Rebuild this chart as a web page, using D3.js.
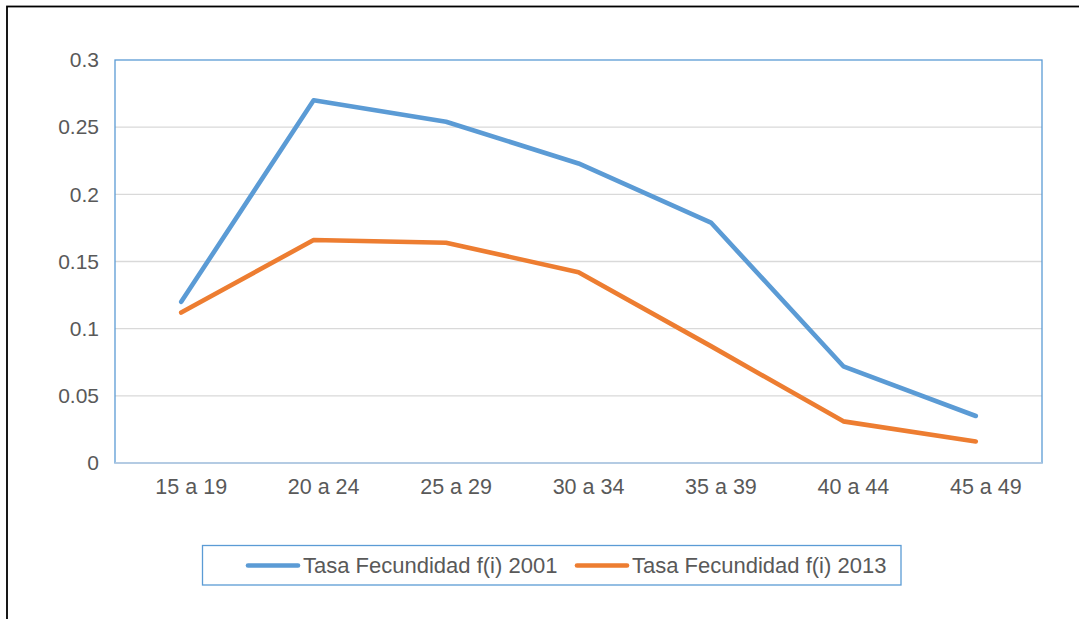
<!DOCTYPE html>
<html>
<head>
<meta charset="utf-8">
<script src="https://cdn.jsdelivr.net/npm/d3@7.9.0/dist/d3.min.js"></script>
<style>
  html, body { margin: 0; padding: 0; background: #fff; overflow: hidden; }
  svg { display: block; font-family: "Liberation Sans", Arial, sans-serif; }
</style>
</head>
<body>
<svg id="chart" width="1079" height="619"></svg>
<script>
// categories and series
const categories = ['15 a 19', '20 a 24', '25 a 29', '30 a 34', '35 a 39', '40 a 44', '45 a 49'];
const tasa2001 = [0.120, 0.270, 0.254, 0.223, 0.179, 0.072, 0.035];
const tasa2013 = [0.112, 0.166, 0.164, 0.142, 0.087, 0.031, 0.016];
const yTicks = [0, 0.05, 0.1, 0.15, 0.2, 0.25, 0.3];
const seriesNames = ['Tasa Fecundidad f(i) 2001', 'Tasa Fecundidad f(i) 2013'];
const seriesColors = ['#5B9BD5', '#ED7D31'];

const svg = d3.select('#chart');
const plot = { left: 115, top: 60, right: 1042, bottom: 463 };
const textColor = '#595959';

// outer frame (runs off the right and bottom edge, like the reference)
svg.append('rect')
    .attr('x', 7).attr('y', 6.5)
    .attr('width', 1100).attr('height', 650)
    .attr('fill', 'none')
    .attr('stroke', '#000')
    .attr('stroke-width', 1.8);

const x = d3.scaleBand()
    .domain(categories)
    .range([plot.left, plot.right]);

const y = d3.scaleLinear()
    .domain([0, 0.3])
    .range([plot.bottom, plot.top]);

// gridlines
svg.append('g')
    .selectAll('line')
    .data(yTicks.filter(d => d > 0 && d < 0.3))
    .join('line')
    .attr('x1', plot.left).attr('x2', plot.right)
    .attr('y1', d => y(d)).attr('y2', d => y(d))
    .attr('stroke', '#d9d9d9')
    .attr('stroke-width', 1.3);

// plot area border
svg.append('rect')
    .attr('x', plot.left).attr('y', plot.top)
    .attr('width', plot.right - plot.left)
    .attr('height', plot.bottom - plot.top)
    .attr('fill', 'none')
    .attr('stroke', '#5B9BD5')
    .attr('stroke-width', 1.3);

// bottom axis line is lighter
svg.append('line')
    .attr('x1', plot.left).attr('x2', plot.right)
    .attr('y1', plot.bottom).attr('y2', plot.bottom)
    .attr('stroke', '#bfcfe3')
    .attr('stroke-width', 1.3);

// y axis labels
const yAxis = svg.append('g')
    .attr('transform', `translate(${plot.left},0)`)
    .call(d3.axisLeft(y).tickValues(yTicks).tickFormat(d => String(+d.toFixed(2))).tickSize(0).tickPadding(16));
yAxis.select('.domain').remove();
yAxis.selectAll('text')
    .attr('fill', textColor)
    .style('font-size', '21px')
    .style('font-family', '"Liberation Sans", Arial, sans-serif');

// x axis labels (sit a bit right of the category centre in the original)
const xAxis = svg.append('g')
    .attr('transform', `translate(10,${plot.bottom})`)
    .call(d3.axisBottom(x).tickSize(0).tickPadding(16));
xAxis.select('.domain').remove();
xAxis.selectAll('text')
    .attr('fill', textColor)
    .style('font-size', '21.5px')
    .style('font-family', '"Liberation Sans", Arial, sans-serif');

// lines
const line = d3.line()
    .x((d, i) => x(categories[i]) + x.bandwidth() / 2)
    .y(d => y(d));

[tasa2001, tasa2013].forEach((vals, i) => {
    svg.append('path')
        .datum(vals)
        .attr('d', line)
        .attr('fill', 'none')
        .attr('stroke', seriesColors[i])
        .attr('stroke-width', 4.6)
        .attr('stroke-linejoin', 'round')
        .attr('stroke-linecap', 'round');
});

// legend
const legend = svg.append('g');
legend.append('rect')
    .attr('x', 202.5).attr('y', 545.5)
    .attr('width', 698.5).attr('height', 39.5)
    .attr('fill', '#fff')
    .attr('stroke', '#5B9BD5')
    .attr('stroke-width', 1.3);

const legendX = [248, 577];
seriesNames.forEach((name, i) => {
    legend.append('line')
        .attr('x1', legendX[i]).attr('x2', legendX[i] + 50)
        .attr('y1', 565.5).attr('y2', 565.5)
        .attr('stroke', seriesColors[i])
        .attr('stroke-width', 4.6)
        .attr('stroke-linecap', 'round');
    legend.append('text')
        .attr('x', legendX[i] + 55)
        .attr('y', 572.5)
        .attr('fill', textColor)
        .style('font-size', '22px')
        .text(name);
});
</script>
</body>
</html>
